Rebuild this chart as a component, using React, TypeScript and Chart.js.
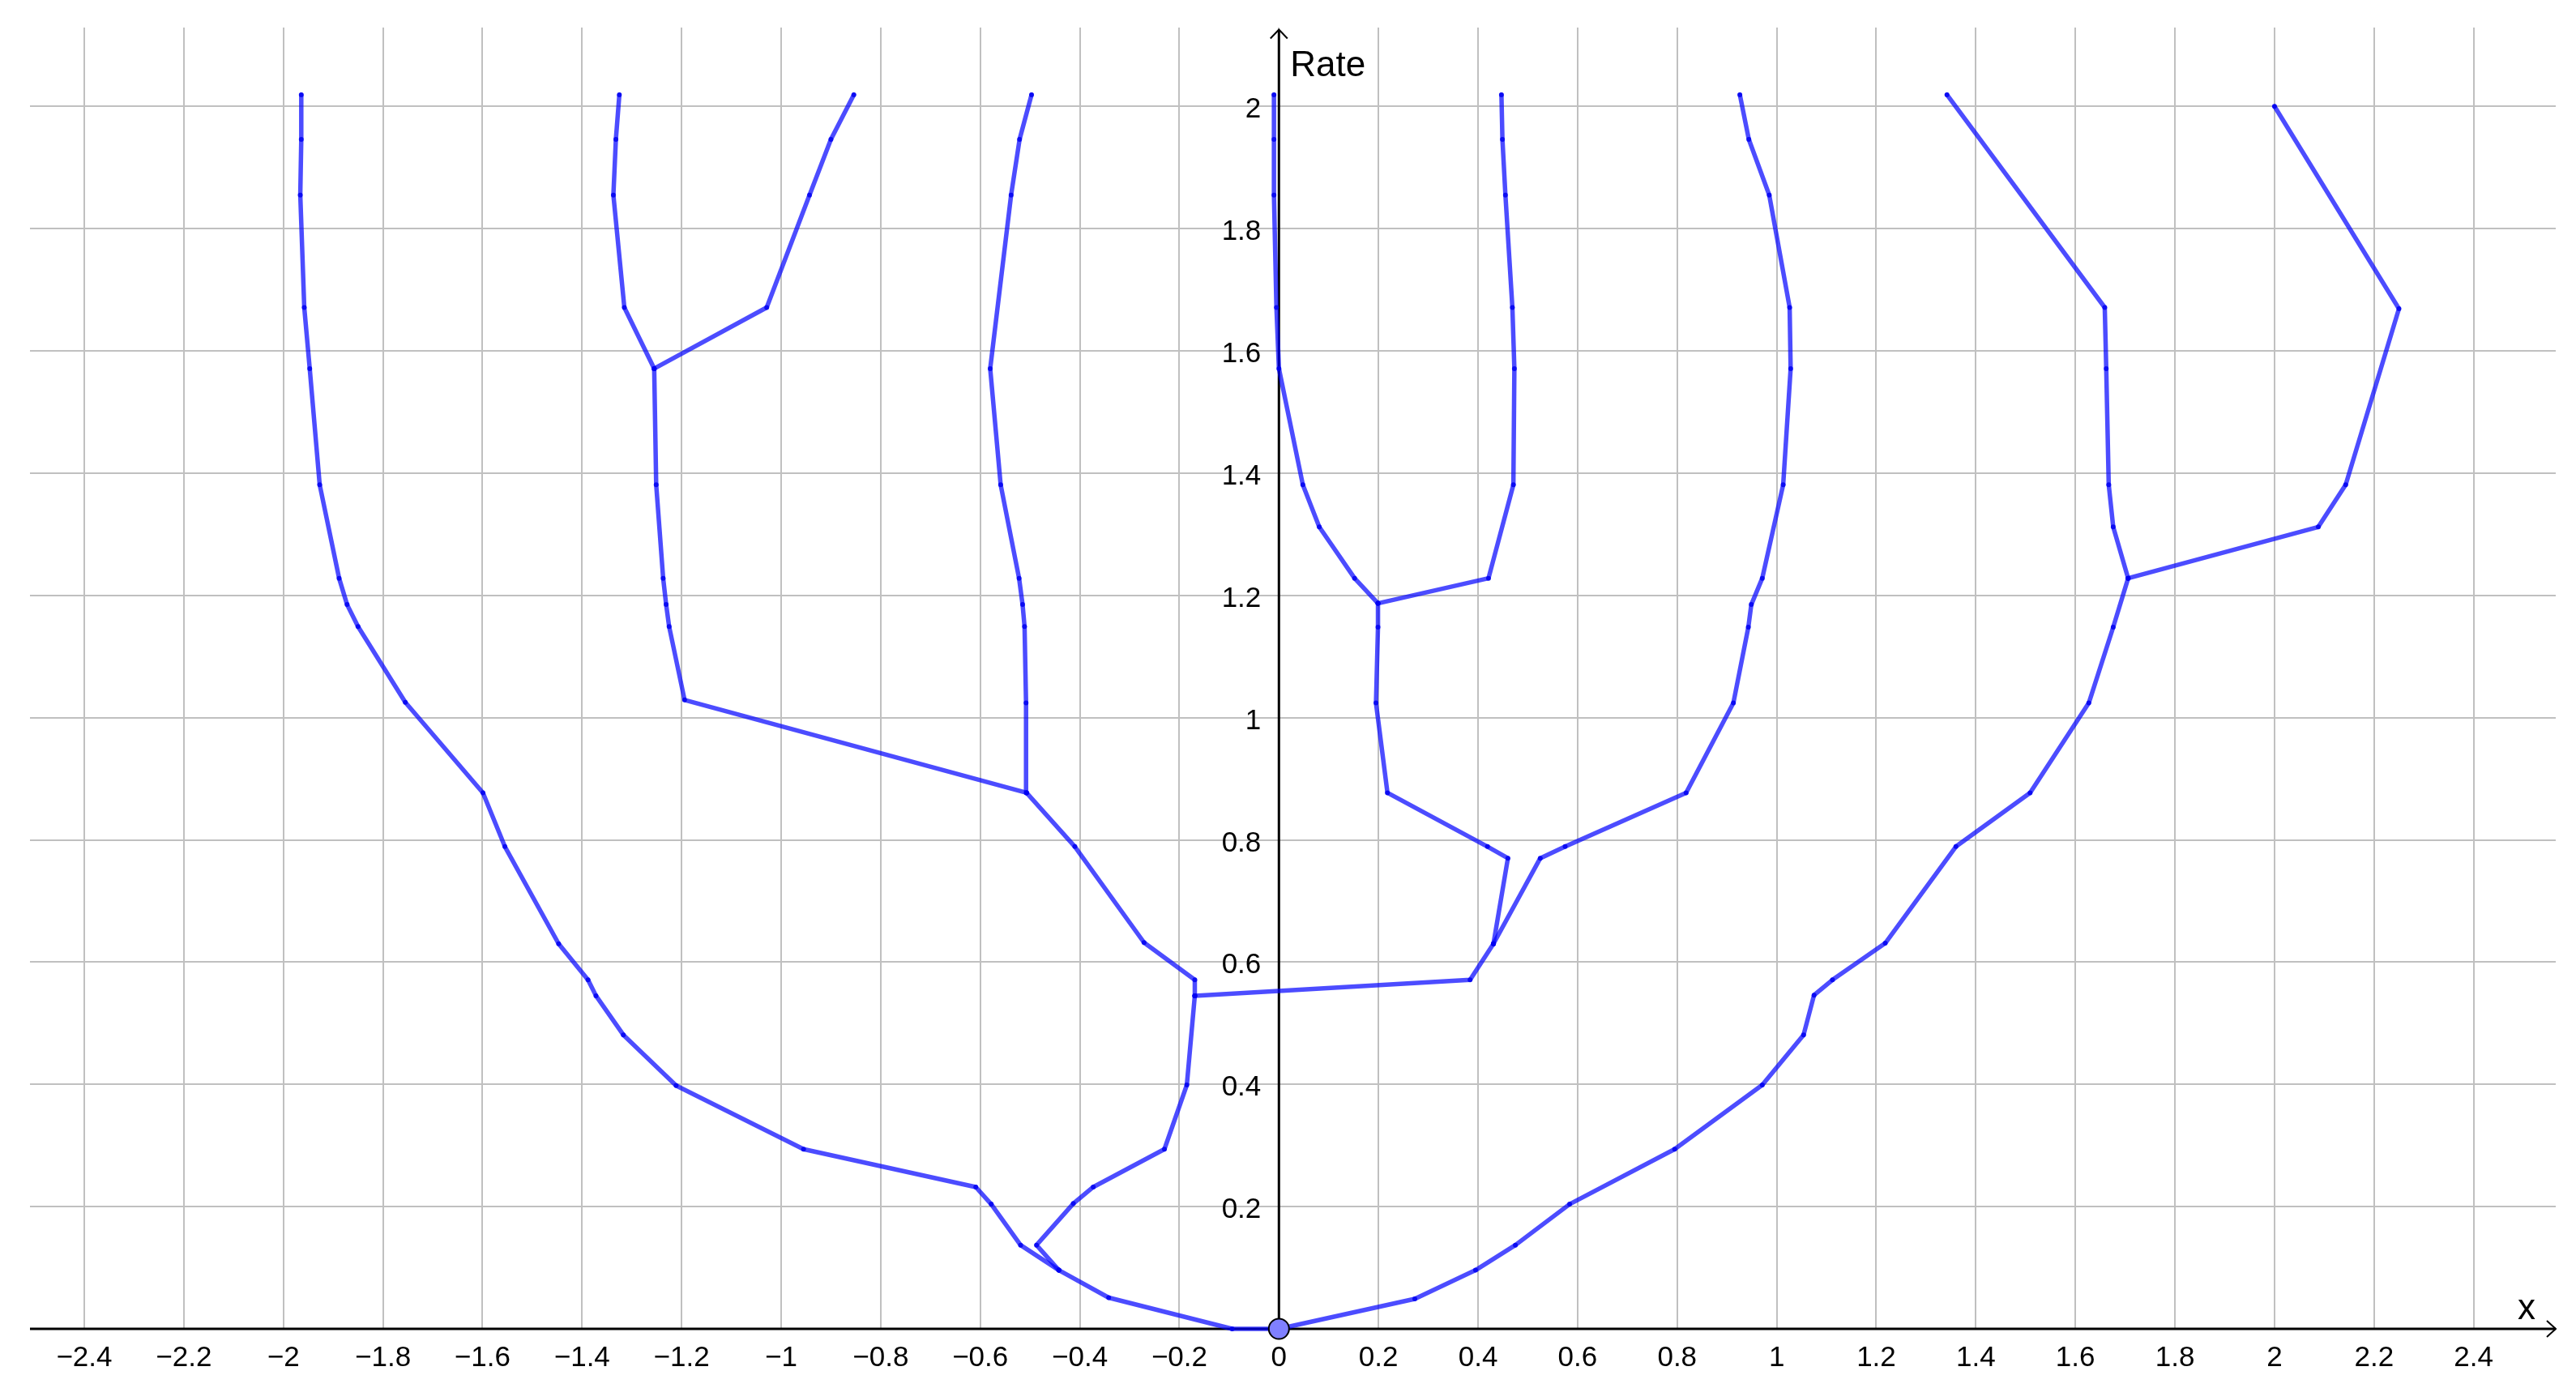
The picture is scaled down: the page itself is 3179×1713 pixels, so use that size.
import React, { useEffect, useRef } from 'react';
import { Chart, registerables } from 'chart.js';

Chart.register(...registerables);

// ---- axis ranges & ticks ----
const X_MIN = -2.509;
const X_MAX = 2.565;
const Y_MIN = 0;
const Y_MAX = 2.129;

const xTickValues = [-2.4, -2.2, -2, -1.8, -1.6, -1.4, -1.2, -1, -0.8, -0.6, -0.4, -0.2, 0, 0.2, 0.4, 0.6, 0.8, 1, 1.2, 1.4, 1.6, 1.8, 2, 2.2, 2.4];
const xTickLabels = ['\u22122.4', '\u22122.2', '\u22122', '\u22121.8', '\u22121.6', '\u22121.4', '\u22121.2', '\u22121', '\u22120.8', '\u22120.6', '\u22120.4', '\u22120.2', '0', '0.2', '0.4', '0.6', '0.8', '1', '1.2', '1.4', '1.6', '1.8', '2', '2.2', '2.4'];
const yTickValues = [0.2, 0.4, 0.6, 0.8, 1, 1.2, 1.4, 1.6, 1.8, 2];
const yTickLabels = ['0.2', '0.4', '0.6', '0.8', '1', '1.2', '1.4', '1.6', '1.8', '2'];

const xAxisTitle = 'x';
const yAxisTitle = 'Rate';

// ---- tree branches (x, rate) ----
const trunkLeft = [[0, 0], [-0.094, 0], [-0.342, 0.051], [-0.442, 0.096]];
const leftOuter = [[-0.442, 0.096], [-0.519, 0.137], [-0.578, 0.204], [-0.609, 0.232], [-0.955, 0.294], [-1.211, 0.398], [-1.317, 0.481], [-1.372, 0.545], [-1.388, 0.571], [-1.447, 0.630], [-1.555, 0.789], [-1.599, 0.877], [-1.755, 1.025], [-1.850, 1.149], [-1.872, 1.185], [-1.888, 1.228], [-1.927, 1.381], [-1.947, 1.571], [-1.958, 1.671], [-1.966, 1.855], [-1.964, 1.946], [-1.964, 2.019]];
const leftInner = [[-0.442, 0.096], [-0.487, 0.137], [-0.413, 0.205], [-0.373, 0.232], [-0.230, 0.294], [-0.185, 0.399], [-0.169, 0.545]];
const leftUpper = [[-0.169, 0.545], [-0.169, 0.571], [-0.271, 0.632], [-0.410, 0.789], [-0.507, 0.877]];
const leftStem = [[-0.507, 0.877], [-0.508, 1.024], [-0.511, 1.149], [-0.515, 1.185], [-0.522, 1.228], [-0.559, 1.381], [-0.580, 1.571], [-0.538, 1.855], [-0.521, 1.946], [-0.497, 2.019]];
const leftBridge = [[-0.507, 0.877], [-1.194, 1.029], [-1.225, 1.149], [-1.231, 1.185], [-1.237, 1.228], [-1.251, 1.381], [-1.255, 1.571]];
const leftForkA = [[-1.255, 1.571], [-1.315, 1.671], [-1.337, 1.855], [-1.332, 1.946], [-1.325, 2.019]];
const leftForkB = [[-1.255, 1.571], [-1.029, 1.671], [-0.943, 1.855], [-0.900, 1.946], [-0.854, 2.019]];
const centerBridge = [[-0.169, 0.545], [0.384, 0.571], [0.431, 0.630]];
const centerStem = [[0.431, 0.630], [0.460, 0.770], [0.419, 0.789], [0.218, 0.877], [0.195, 1.024], [0.199, 1.148], [0.199, 1.187]];
const centerForkA = [[0.199, 1.187], [0.152, 1.228], [0.081, 1.312], [0.048, 1.381], [0.0, 1.571], [-0.005, 1.671], [-0.010, 1.855], [-0.010, 1.946], [-0.010, 2.019]];
const centerForkB = [[0.199, 1.187], [0.421, 1.228], [0.471, 1.381], [0.473, 1.571], [0.469, 1.671], [0.455, 1.855], [0.449, 1.946], [0.447, 2.019]];
const centerRight = [[0.431, 0.630], [0.525, 0.770], [0.575, 0.789], [0.818, 0.877], [0.913, 1.024], [0.943, 1.148], [0.949, 1.185], [0.971, 1.228], [1.013, 1.381], [1.028, 1.571], [1.026, 1.671], [0.985, 1.855], [0.944, 1.946], [0.926, 2.019]];
const rightOuter = [[0, 0], [0.273, 0.049], [0.395, 0.096], [0.475, 0.137], [0.584, 0.204], [0.795, 0.294], [0.971, 0.399], [1.054, 0.481], [1.075, 0.546], [1.112, 0.571], [1.218, 0.631], [1.360, 0.789], [1.509, 0.877], [1.627, 1.024], [1.676, 1.148], [1.706, 1.228]];
const rightForkA = [[1.706, 1.228], [1.676, 1.312], [1.667, 1.381], [1.662, 1.571], [1.659, 1.671], [1.342, 2.019]];
const rightForkB = [[1.706, 1.228], [2.088, 1.312], [2.143, 1.381], [2.250, 1.669], [2.0, 2.0]];

const branches = [trunkLeft, leftOuter, leftInner, leftUpper, leftStem, leftBridge, leftForkA, leftForkB, centerBridge, centerStem, centerForkA, centerForkB, centerRight, rightOuter, rightForkA, rightForkB];

const rootPoint = [[0, 0]];

const FONT = '"Liberation Sans", Arial, sans-serif';

const axesPlugin = {
  id: 'geoAxes',
  beforeDatasetsDraw(chart: any) {
    const { ctx, chartArea: ca, scales } = chart;
    const xs = scales.x;
    const ys = scales.y;
    const x0 = xs.getPixelForValue(0);
    const y0 = ys.getPixelForValue(0);
    ctx.save();
    ctx.strokeStyle = '#000';
    ctx.lineWidth = 3;
    ctx.lineCap = 'butt';
    ctx.beginPath();
    ctx.moveTo(ca.left, y0);
    ctx.lineTo(ca.right, y0);
    ctx.stroke();
    ctx.beginPath();
    ctx.moveTo(x0, y0);
    ctx.lineTo(x0, ca.top + 3);
    ctx.stroke();
    ctx.lineWidth = 2;
    ctx.lineJoin = 'miter';
    ctx.beginPath();
    ctx.moveTo(ca.right - 11, y0 - 10);
    ctx.lineTo(ca.right, y0);
    ctx.lineTo(ca.right - 11, y0 + 10);
    ctx.stroke();
    ctx.beginPath();
    ctx.moveTo(x0 - 10.5, ca.top + 13.5);
    ctx.lineTo(x0, ca.top + 2.5);
    ctx.lineTo(x0 + 10.5, ca.top + 13.5);
    ctx.stroke();

    ctx.fillStyle = '#000';
    ctx.font = '35px ' + FONT;
    ctx.textBaseline = 'alphabetic';
    ctx.textAlign = 'center';
    xTickValues.forEach((v, i) => {
      ctx.fillText(xTickLabels[i], xs.getPixelForValue(v), y0 + 46);
    });
    ctx.textAlign = 'right';
    yTickValues.forEach((v, i) => {
      ctx.fillText(yTickLabels[i], x0 - 22, ys.getPixelForValue(v) + 14);
    });
    ctx.font = '44px ' + FONT;
    ctx.textAlign = 'left';
    ctx.fillText(yAxisTitle, x0 + 14, ca.top + 60);
    ctx.fillText(xAxisTitle, ca.right - 47, y0 - 12);
    ctx.restore();
  },
};

export default function App() {
  const ref = useRef<HTMLCanvasElement | null>(null);
  useEffect(() => {
    if (!ref.current) return;
    const lineSets: any[] = branches.map((b) => ({
      data: b.map(([x, y]) => ({ x, y })),
      showLine: true,
      borderColor: 'rgba(0,0,255,0.7)',
      borderWidth: 5.5,
      borderCapStyle: 'round',
      borderJoinStyle: 'round',
      pointRadius: 3,
      pointHoverRadius: 3,
      pointBackgroundColor: 'rgba(0,0,240,0.85)',
      pointBorderWidth: 0,
      tension: 0,
      clip: false,
      order: 1,
    }));
    const rootSet: any = {
      data: rootPoint.map(([x, y]) => ({ x, y })),
      showLine: false,
      pointRadius: 12.5,
      pointHoverRadius: 12.5,
      pointBackgroundColor: 'rgb(128,128,255)',
      pointBorderColor: '#000',
      pointBorderWidth: 2,
      clip: false,
      order: -1,
    };
    const chart = new Chart(ref.current, {
      type: 'scatter',
      data: { datasets: [rootSet, ...lineSets] },
      options: {
        animation: false,
        responsive: false,
        devicePixelRatio: 1,
        events: [],
        layout: { padding: { left: 37, top: 34, right: 25, bottom: 73 } },
        plugins: { legend: { display: false }, tooltip: { enabled: false } },
        scales: {
          x: {
            type: 'linear',
            min: X_MIN,
            max: X_MAX,
            afterBuildTicks: (s: any) => {
              s.ticks = xTickValues.map((v) => ({ value: v }));
            },
            ticks: { display: false },
            grid: { color: '#c0c0c0', lineWidth: 2, drawTicks: false },
            border: { display: false },
          },
          y: {
            type: 'linear',
            min: Y_MIN,
            max: Y_MAX,
            afterBuildTicks: (s: any) => {
              s.ticks = yTickValues.map((v) => ({ value: v }));
            },
            ticks: { display: false },
            grid: { color: '#c0c0c0', lineWidth: 2, drawTicks: false },
            border: { display: false },
          },
        },
      } as any,
      plugins: [axesPlugin],
    });
    return () => chart.destroy();
  }, []);
  return (
    <div style={{ position: 'fixed', left: 0, top: 0, width: 3179, height: 1713, background: '#fff' }}>
      <canvas ref={ref} width={3179} height={1713} style={{ display: 'block' }} />
    </div>
  );
}
